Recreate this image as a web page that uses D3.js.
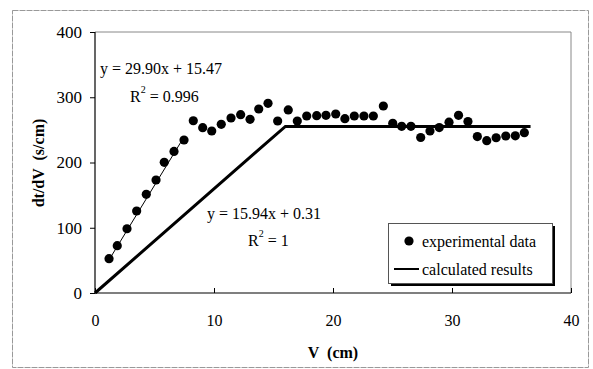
<!DOCTYPE html>
<html><head><meta charset="utf-8">
<script src="https://cdn.jsdelivr.net/npm/d3@7"></script>
<style>
body{margin:0;background:#fff;}
svg text{font-family:"Liberation Serif","Times New Roman",Times,"DejaVu Serif",serif !important;}
</style></head>
<body>
<svg id="chart" width="593" height="369"></svg>
<script>
// experimental data
const expX = [1.18,1.87,2.69,3.50,4.31,5.13,5.82,6.64,7.48,8.26,9.05,9.81,10.61,11.43,12.24,13.03,13.76,14.54,15.35,16.24,17.00,17.79,18.63,19.41,20.23,21.00,21.79,22.60,23.39,24.23,25.02,25.77,26.55,27.37,28.15,28.93,29.75,30.55,31.34,32.13,32.92,33.71,34.52,35.32,36.08];
const expY = [52.6,72.5,98.5,125.7,151.3,173.2,200.3,217,234.5,264,253.3,248.3,258.5,268.2,273.3,266.2,282.0,290.7,263.6,280.5,263.6,271.3,271.7,272.3,274.3,267.1,271.3,271.3,271.3,286.6,260.1,255.5,255.5,238.3,248.3,253.6,261.8,272.3,262.8,239.8,233.4,237.9,240.6,240.9,245.7];
// calculated results
const calcX = [0, 16, 36.6];
const calcY = [0, 255.35, 255.35];
// linear fit of first segment
const fitX = [1.18, 7.48];
const fitSlope = 29.90, fitIntercept = 15.47;
const xTicks = [0,10,20,30,40];
const yTicks = [0,100,200,300,400];
const legendLabels = ["experimental data","calculated results"];

const svg = d3.select("#chart");
const x = d3.scaleLinear().domain([0,40]).range([95,571]);
const y = d3.scaleLinear().domain([0,400]).range([293,32]);

// outer border
svg.append("rect").attr("x",12.5).attr("y",10.5).attr("width",576).attr("height",357)
  .attr("fill","none").attr("stroke","#999").attr("stroke-width",1).attr("stroke-dasharray","6,1");

// plot frame (top/right grey)
svg.append("path").attr("d",`M${x(0)},${y(400)}H${x(40)}V${y(0)}`)
  .attr("fill","none").attr("stroke","#888").attr("stroke-width",1);

// axes
const yAxis = d3.axisLeft(y).tickValues(yTicks).tickSize(5).tickPadding(8);
const gy = svg.append("g").attr("transform",`translate(${x(0)},0)`).call(yAxis);
const xAxis = d3.axisBottom(x).tickValues(xTicks).tickSizeInner(-5).tickSizeOuter(0).tickPadding(22);
const gx = svg.append("g").attr("transform",`translate(0,${y(0)})`).call(xAxis);
[gx,gy].forEach(g=>{
  g.attr("font-family",null).attr("font-size",null);
  g.selectAll("text").attr("font-size",16).attr("fill","#000");
  g.select(".domain").attr("stroke","#000").attr("stroke-width",1.2);
  g.selectAll(".tick line").attr("stroke","#000");
});
gy.selectAll("text").attr("font-size",17);
gy.select(".domain").attr("d",`M0,${y(400)}V${y(0)}`);
gx.select(".domain").attr("d",`M${x(0)},0H${x(40)}`);

// axis titles
svg.append("text").attr("transform","translate(38,163) rotate(-90)")
  .attr("text-anchor","middle").attr("dominant-baseline","central")
  .attr("font-weight","bold").attr("font-size",16).style("white-space","pre")
  .text("dt/dV  (s/cm)");
svg.append("text").attr("x",333).attr("y",352)
  .attr("text-anchor","middle").attr("dominant-baseline","central")
  .attr("font-weight","bold").attr("font-size",16).style("white-space","pre")
  .text("V  (cm)");

// calculated line
const line = d3.line().x(d=>x(d[0])).y(d=>y(d[1]));
svg.append("path").datum(calcX.map((v,i)=>[v,calcY[i]]))
  .attr("d",line).attr("fill","none").attr("stroke","#000").attr("stroke-width",3);

// fit line
svg.append("path").datum(fitX.map(v=>[v, fitSlope*v+fitIntercept]))
  .attr("d",line).attr("fill","none").attr("stroke","#000").attr("stroke-width",1);

// experimental points
svg.append("g").selectAll("circle").data(expX.map((v,i)=>[v,expY[i]])).join("circle")
  .attr("cx",d=>x(d[0])).attr("cy",d=>y(d[1])).attr("r",4.6).attr("fill","#000");

// equations
function eq(xp, yp, txt){
  svg.append("text").attr("x",xp).attr("y",yp).attr("font-size",16).attr("dominant-baseline","central")
    .style("white-space","pre").text(txt);
}
function r2(xp, yp, val){
  const t = svg.append("text").attr("x",xp).attr("y",yp).attr("font-size",16).attr("dominant-baseline","central").style("white-space","pre");
  t.append("tspan").text("R");
  t.append("tspan").attr("font-size",10).attr("dy",-7).text("2");
  t.append("tspan").attr("dy",7).text(" = " + val);
}
eq(100,68,"y = 29.90x + 15.47");
r2(130,96,"0.996");
eq(207,213,"y = 15.94x + 0.31");
r2(248,240,"1");

// legend
const lg = svg.append("g");
lg.append("rect").attr("x",391).attr("y",226).attr("width",164).attr("height",60).attr("fill","#000");
lg.append("rect").attr("x",388.5).attr("y",223.5).attr("width",164).attr("height",60)
  .attr("fill","#fff").attr("stroke","#555").attr("stroke-width",1);
lg.append("circle").attr("cx",409).attr("cy",241).attr("r",4.6).attr("fill","#000");
lg.append("line").attr("x1",394).attr("x2",419).attr("y1",269).attr("y2",269).attr("stroke","#000").attr("stroke-width",2);
lg.selectAll("text.lg").data(legendLabels).join("text").attr("class","lg")
  .attr("x",422).attr("y",(d,i)=>241+i*28).attr("dominant-baseline","central")
  .attr("font-size",16).text(d=>d);
</script>
</body></html>
